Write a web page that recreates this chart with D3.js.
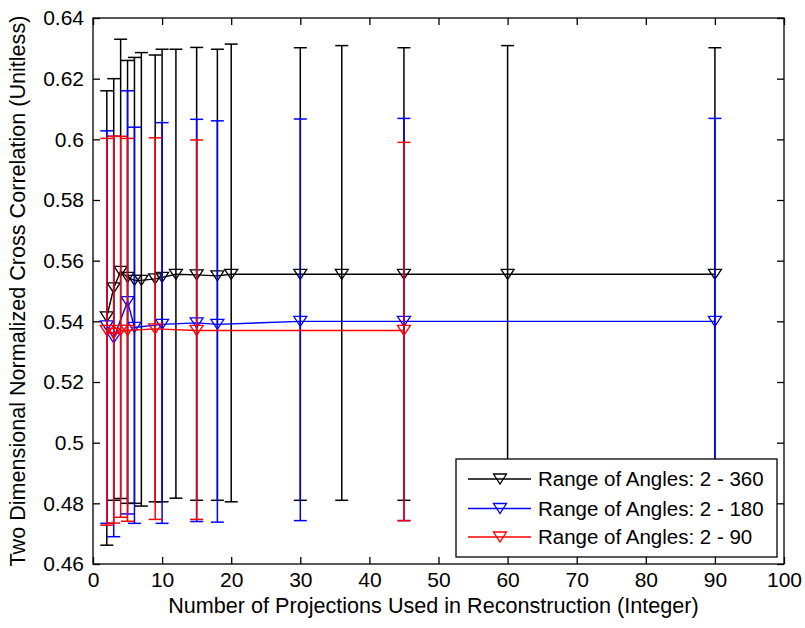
<!DOCTYPE html>
<html>
<head>
<meta charset="utf-8">
<script src="https://cdn.jsdelivr.net/npm/d3@7"></script>
<style>
  html, body { margin: 0; padding: 0; background: #fff; }
  svg { display: block; }
  text { font-family: "Liberation Sans", Arial, sans-serif; fill: #000; }
</style>
</head>
<body>
<svg id="chart" width="805" height="628"></svg>
<script>
// ---- Data ----
const seriesNames = ["Range of Angles: 2 - 360", "Range of Angles: 2 - 180", "Range of Angles: 2 - 90"];
const seriesColors = ["#000000", "#0000ff", "#ff0000"];

const x360     = [2, 3, 4, 5, 6, 7, 9, 10, 12, 15, 18, 20, 30, 36, 45, 60, 90];
const mean360  = [0.5415, 0.551, 0.5565, 0.5545, 0.5535, 0.5535, 0.554, 0.5545, 0.5555, 0.5553, 0.555, 0.5555, 0.5555, 0.5555, 0.5555, 0.5555, 0.5555];
const upper360 = [0.616, 0.620, 0.633, 0.626, 0.627, 0.6286, 0.6278, 0.6297, 0.6297, 0.6303, 0.6297, 0.6314, 0.6302, 0.6309, 0.6302, 0.6309, 0.6302];
const lower360 = [0.4662, 0.481, 0.4816, 0.480, 0.480, 0.4791, 0.4805, 0.4805, 0.4817, 0.481, 0.481, 0.4805, 0.481, 0.481, 0.481, 0.481, 0.481];

const x180     = [2, 3, 5, 6, 10, 15, 18, 30, 45, 90];
const mean180  = [0.5385, 0.5345, 0.5465, 0.538, 0.539, 0.5395, 0.539, 0.540, 0.540, 0.540];
const upper180 = [0.6028, 0.601, 0.616, 0.604, 0.6055, 0.6066, 0.6061, 0.6067, 0.6069, 0.6069];
const lower180 = [0.4734, 0.469, 0.4765, 0.4734, 0.4734, 0.474, 0.4738, 0.4743, 0.4743, 0.474];

const x90      = [2, 3, 4, 5, 9, 15, 45];
const mean90   = [0.537, 0.536, 0.537, 0.537, 0.5375, 0.537, 0.537];
const upper90  = [0.6003, 0.601, 0.601, 0.6003, 0.6005, 0.5998, 0.599];
const lower90  = [0.4728, 0.4735, 0.4754, 0.4741, 0.4747, 0.4747, 0.4743];

const xTicks = [0, 10, 20, 30, 40, 50, 60, 70, 80, 90, 100];
const yTicks = [0.46, 0.48, 0.5, 0.52, 0.54, 0.56, 0.58, 0.6, 0.62, 0.64];
const yTickLabels = ["0.46", "0.48", "0.5", "0.52", "0.54", "0.56", "0.58", "0.6", "0.62", "0.64"];
const xLabel = "Number of Projections Used in Reconstruction (Integer)";
const yLabel = "Two Dimensional Normalized Cross Correlation (Unitless)";

// ---- Build series ----
function build(xs, m, u, l) {
  return xs.map((x, i) => ({ x: x, m: m[i], u: u[i], l: l[i] }));
}
const series = [
  { name: seriesNames[0], color: seriesColors[0], pts: build(x360, mean360, upper360, lower360) },
  { name: seriesNames[1], color: seriesColors[1], pts: build(x180, mean180, upper180, lower180) },
  { name: seriesNames[2], color: seriesColors[2], pts: build(x90, mean90, upper90, lower90) }
];

// ---- Layout ----
const L = 93, R = 784, T = 18, B = 564;
const svg = d3.select("#chart");
svg.append("rect").attr("x", 0).attr("y", 0).attr("width", 805).attr("height", 628).attr("fill", "#fff");

const x = d3.scaleLinear().domain([0, 100]).range([L, R]);
const y = d3.scaleLinear().domain([0.46, 0.64]).range([B, T]);

const FS = 21;
const tickLen = 7;

// Axes with inward ticks
const gx = svg.append("g").attr("transform", `translate(0,${B})`)
  .call(d3.axisBottom(x).tickValues(xTicks).tickSizeInner(-tickLen).tickSizeOuter(0).tickPadding(10).tickFormat(d3.format("d")));
gx.select(".domain").remove();
gx.selectAll("line").attr("stroke", "#000").attr("stroke-width", 1.3);
gx.selectAll("text").attr("font-size", FS).attr("font-family", "Liberation Sans, Arial, sans-serif").attr("dy", "0.71em").attr("y", 8);

const gxt = svg.append("g").attr("transform", `translate(0,${T})`)
  .call(d3.axisTop(x).tickValues(xTicks).tickSizeInner(-tickLen).tickSizeOuter(0).tickFormat(""));
gxt.select(".domain").remove();
gxt.selectAll("line").attr("stroke", "#000").attr("stroke-width", 1.3);

const gy = svg.append("g").attr("transform", `translate(${L},0)`)
  .call(d3.axisLeft(y).tickValues(yTicks).tickSizeInner(-tickLen).tickSizeOuter(0).tickPadding(9)
    .tickFormat((d, i) => yTickLabels[i]));
gy.select(".domain").remove();
gy.selectAll("line").attr("stroke", "#000").attr("stroke-width", 1.3);
gy.selectAll("text").attr("font-size", FS).attr("font-family", "Liberation Sans, Arial, sans-serif").attr("x", -9);

const gyr = svg.append("g").attr("transform", `translate(${R},0)`)
  .call(d3.axisRight(y).tickValues(yTicks).tickSizeInner(-tickLen).tickSizeOuter(0).tickFormat(""));
gyr.select(".domain").remove();
gyr.selectAll("line").attr("stroke", "#000").attr("stroke-width", 1.3);

// ---- Series ----
const capHalf = 6.5;
const triW = 13, triH = 10;
function triPath(cx, cy) {
  return `M${cx - triW / 2},${cy - triH / 2}L${cx + triW / 2},${cy - triH / 2}L${cx},${cy + triH / 2}Z`;
}
const lineGen = d3.line().x(d => x(d.x)).y(d => y(d.m));
const plot = svg.append("g");

series.forEach(s => {
  const g = plot.append("g");
  g.append("path").attr("d", lineGen(s.pts)).attr("fill", "none").attr("stroke", s.color).attr("stroke-width", 1.4);
  const bars = g.selectAll("g.bar").data(s.pts).enter().append("g").attr("class", "bar");
  bars.append("line").attr("x1", d => x(d.x)).attr("x2", d => x(d.x)).attr("y1", d => y(d.l)).attr("y2", d => y(d.u))
    .attr("stroke", s.color).attr("stroke-width", 1.5);
  bars.append("line").attr("x1", d => x(d.x) - capHalf).attr("x2", d => x(d.x) + capHalf).attr("y1", d => y(d.u)).attr("y2", d => y(d.u))
    .attr("stroke", s.color).attr("stroke-width", 1.5);
  bars.append("line").attr("x1", d => x(d.x) - capHalf).attr("x2", d => x(d.x) + capHalf).attr("y1", d => y(d.l)).attr("y2", d => y(d.l))
    .attr("stroke", s.color).attr("stroke-width", 1.5);
  bars.append("path").attr("d", d => triPath(x(d.x), y(d.m))).attr("fill", "none").attr("stroke", s.color).attr("stroke-width", 1.3);
});

// Box
svg.append("rect").attr("x", L).attr("y", T).attr("width", R - L).attr("height", B - T)
  .attr("fill", "none").attr("stroke", "#000").attr("stroke-width", 1.3);

// Axis labels
svg.append("text").attr("x", (L + R) / 2 - 5).attr("y", 613).attr("text-anchor", "middle").attr("font-size", 21.6).text(xLabel);
svg.append("text").attr("transform", `translate(25,${(T + B) / 2}) rotate(-90)`).attr("text-anchor", "middle").attr("font-size", 21.6).text(yLabel);

// ---- Legend ----
const lg = svg.append("g");
const lx0 = 456, ly0 = 459, lw = 321, lh = 98;
lg.append("rect").attr("x", lx0).attr("y", ly0).attr("width", lw).attr("height", lh).attr("fill", "#fff").attr("stroke", "#000").attr("stroke-width", 1.3);
const rowY = [479, 508.5, 537];
series.forEach((s, i) => {
  const cy = rowY[i];
  lg.append("line").attr("x1", 468).attr("x2", 531).attr("y1", cy).attr("y2", cy).attr("stroke", s.color).attr("stroke-width", 1.4);
  lg.append("path").attr("d", triPath(500, cy)).attr("fill", "none").attr("stroke", s.color).attr("stroke-width", 1.3);
  lg.append("text").attr("x", 538).attr("y", cy).attr("dy", "0.36em").attr("font-size", 20.5).text(s.name);
});
</script>
</body>
</html>
